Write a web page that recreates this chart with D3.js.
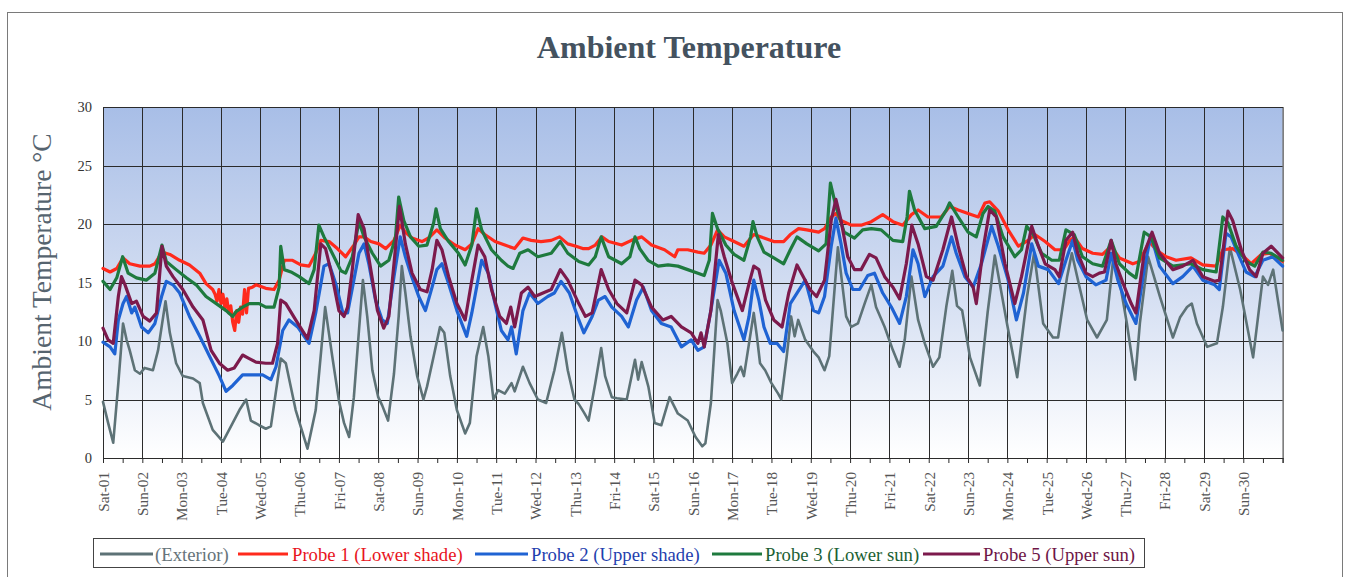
<!DOCTYPE html>
<html>
<head>
<meta charset="utf-8">
<script src="https://cdn.jsdelivr.net/npm/d3@7"></script>
<style>
  body { margin: 0; background: #fff; }
  svg { display: block; font-family: "Liberation Serif", "Times New Roman", serif; }
</style>
</head>
<body>
<svg id="chart" width="1345" height="577"></svg>
<script>
// Day labels along the time axis (one per day, rotated)
const dayLabels = ["Sat-01","Sun-02","Mon-03","Tue-04","Wed-05","Thu-06","Fri-07","Sat-08","Sun-09","Mon-10",
  "Tue-11","Wed-12","Thu-13","Fri-14","Sat-15","Sun-16","Mon-17","Tue-18","Wed-19","Thu-20",
  "Fri-21","Sat-22","Sun-23","Mon-24","Tue-25","Wed-26","Thu-27","Fri-28","Sat-29","Sun-30"];

const yTicks = [0, 5, 10, 15, 20, 25, 30];

// Readings: [elapsed days since Sat-01 00:00, temperature °C]
const exterior = [[0,4.8],[0.13,3.0],[0.26,1.3],[0.39,6.4],[0.51,11.5],[0.6,10.1],[0.68,9.2],[0.81,7.5],[0.94,7.2],
  [1.06,7.7],[1.27,7.5],[1.4,9.2],[1.59,13.4],[1.7,10.7],[1.86,8.1],[2.03,7.0],[2.29,6.8],[2.46,6.4],[2.54,4.7],
  [2.79,2.4],[3.05,1.4],[3.3,3.0],[3.47,4.1],[3.64,5.0],[3.76,3.2],[3.97,2.8],[4.14,2.5],[4.27,2.7],[4.52,8.5],
  [4.65,8.1],[4.9,4.1],[5.2,0.8],[5.41,4.1],[5.65,12.9],[5.83,8.7],[6.0,4.9],[6.13,3.0],[6.26,1.8],[6.38,5.2],
  [6.51,10.9],[6.61,15.2],[6.72,12.1],[6.85,7.5],[7.0,5.2],[7.1,4.5],[7.25,3.2],[7.4,7.2],[7.52,12.1],[7.6,16.4],
  [7.69,14.1],[7.82,10.4],[7.99,7.0],[8.15,5.0],[8.24,6.1],[8.41,8.7],[8.57,11.2],[8.68,10.7],[8.83,7.0],[9.0,4.1],
  [9.21,2.1],[9.33,3.0],[9.5,8.7],[9.67,11.2],[9.8,8.7],[9.93,5.0],[10.05,5.8],[10.22,5.5],[10.39,6.4],[10.47,5.7],
  [10.68,7.8],[10.85,6.4],[11.06,5.0],[11.27,4.7],[11.48,7.5],[11.67,10.7],[11.82,7.5],[11.99,5.0],[12.1,4.6],
  [12.23,3.9],[12.35,3.2],[12.52,6.4],[12.67,9.4],[12.77,7.0],[12.94,5.2],[13.07,5.1],[13.32,5.0],[13.53,8.4],
  [13.61,6.7],[13.7,8.2],[13.87,6.1],[14.03,3.0],[14.2,2.8],[14.41,5.2],[14.62,3.8],[14.87,3.2],[15.07,1.8],
  [15.24,1.0],[15.32,1.25],[15.46,4.7],[15.63,13.5],[15.71,12.6],[15.88,9.8],[16.0,6.4],[16.13,7.2],[16.22,7.8],
  [16.3,7.0],[16.43,9.8],[16.55,12.4],[16.63,10.4],[16.71,8.1],[16.84,7.5],[17.0,6.4],[17.17,5.5],[17.25,5.0],
  [17.39,8.7],[17.5,12.1],[17.59,10.4],[17.68,11.8],[17.86,10.1],[18.07,9.1],[18.2,8.6],[18.35,7.5],[18.47,8.7],
  [18.69,18.0],[18.81,14.6],[18.9,12.1],[19.03,11.2],[19.2,11.5],[19.37,13.2],[19.54,14.8],[19.66,12.9],[19.88,11.2],
  [20.09,9.2],[20.26,7.8],[20.39,10.1],[20.56,15.5],[20.73,11.8],[20.9,9.8],[21.11,7.8],[21.27,8.6],[21.45,13.0],
  [21.6,16.0],[21.72,13.0],[21.85,12.6],[22.05,8.6],[22.3,6.2],[22.5,12.5],[22.68,17.3],[22.99,11.5],[23.25,6.9],
  [23.5,13.8],[23.68,17.5],[23.91,11.5],[24.16,10.3],[24.29,10.3],[24.52,15.5],[24.64,17.5],[24.85,14.4],[25.03,11.8],
  [25.28,10.3],[25.53,11.8],[25.69,17.0],[25.86,15.0],[26.04,11.5],[26.25,6.7],[26.37,11.5],[26.58,17.2],[26.88,13.8],
  [27.21,10.3],[27.39,12.0],[27.57,12.9],[27.69,13.2],[27.82,11.5],[28.08,9.5],[28.33,9.8],[28.48,12.9],[28.66,18.0],
  [28.92,14.4],[29.25,8.6],[29.5,15.5],[29.63,14.8],[29.76,16.1],[30.0,10.9]];

const probe1 = [[0,16.2],[0.18,15.9],[0.35,16.2],[0.51,17.1],[0.68,16.6],[0.94,16.4],[1.19,16.4],[1.32,16.6],[1.5,17.6],
  [1.7,17.4],[1.95,16.9],[2.2,16.5],[2.46,15.8],[2.62,14.9],[2.79,14.4],[2.85,14.0],[2.9,13.4],[2.95,14.4],[3.0,13.2],
  [3.05,14.0],[3.1,12.8],[3.15,13.6],[3.2,12.4],[3.25,13.0],[3.3,11.6],[3.35,10.9],[3.4,12.6],[3.45,11.6],[3.5,12.9],
  [3.55,12.3],[3.6,14.4],[3.65,12.4],[3.7,14.5],[3.8,14.6],[3.89,14.8],[4.14,14.5],[4.35,14.4],[4.48,15.2],[4.61,16.9],
  [4.82,16.9],[5.03,16.5],[5.24,16.4],[5.41,17.5],[5.54,18.6],[5.75,18.5],[5.96,17.9],[6.17,17.2],[6.38,18.2],[6.51,18.9],
  [6.64,18.9],[6.81,18.5],[7.02,18.3],[7.19,17.9],[7.4,18.6],[7.56,19.9],[7.69,19.3],[7.86,18.8],[8.11,18.5],[8.28,18.8],
  [8.49,19.5],[8.7,18.8],[8.95,18.2],[9.21,17.8],[9.38,18.3],[9.54,19.6],[9.71,19.1],[9.97,18.5],[10.22,18.2],[10.47,17.9],
  [10.68,18.8],[10.89,18.6],[11.14,18.5],[11.4,18.6],[11.61,18.9],[11.82,18.3],[12.03,18.1],[12.2,17.9],[12.35,17.9],
  [12.52,18.2],[12.69,18.9],[12.86,18.5],[13.19,18.2],[13.44,18.6],[13.7,18.9],[13.95,18.2],[14.28,17.8],[14.54,17.2],
  [14.62,17.8],[14.87,17.8],[15.13,17.6],[15.29,17.5],[15.46,18.2],[15.63,19.5],[15.8,18.9],[16.05,18.5],[16.3,18.1],
  [16.55,19.1],[16.81,18.8],[17.06,18.5],[17.31,18.5],[17.48,19.1],[17.69,19.6],[17.9,19.5],[18.2,19.3],[18.35,19.6],
  [18.52,20.6],[18.64,20.9],[18.77,20.3],[19.03,19.9],[19.28,19.9],[19.54,20.2],[19.83,20.8],[20.09,20.2],[20.34,19.9],
  [20.56,20.8],[20.73,21.2],[20.98,20.6],[21.32,20.6],[21.53,21.5],[21.75,21.2],[22.0,20.9],[22.26,20.6],[22.43,21.8],
  [22.55,21.9],[22.77,21.1],[23.02,19.5],[23.28,18.1],[23.53,18.6],[23.7,19.1],[23.96,18.5],[24.21,17.8],[24.43,17.8],
  [24.57,18.5],[24.7,18.9],[24.91,17.9],[25.17,17.5],[25.42,17.4],[25.64,18.1],[25.85,17.1],[26.19,16.6],[26.36,16.8],
  [26.61,18.5],[26.78,17.8],[27.04,17.2],[27.29,16.9],[27.67,17.1],[27.97,16.5],[28.31,16.4],[28.48,17.8],[28.73,17.9],
  [28.95,17.4],[29.2,16.6],[29.46,17.4],[29.67,17.5],[30.0,16.8]];

const probe2 = [[0,9.9],[0.18,9.5],[0.3,8.9],[0.39,11.8],[0.51,13.2],[0.6,13.8],[0.73,12.4],[0.81,12.9],[0.98,11.2],
  [1.15,10.7],[1.32,11.5],[1.49,13.8],[1.61,15.1],[1.78,14.8],[1.95,14.1],[2.2,12.1],[2.46,10.4],[2.71,8.7],[2.96,7.0],
  [3.13,5.7],[3.3,6.2],[3.55,7.1],[3.8,7.1],[4.06,7.1],[4.27,6.7],[4.4,7.8],[4.57,10.9],[4.73,11.8],[4.95,11.2],
  [5.24,9.8],[5.41,12.4],[5.62,16.4],[5.75,16.6],[5.92,14.9],[6.1,12.4],[6.22,12.4],[6.38,15.2],[6.51,17.5],[6.64,18.3],
  [6.76,16.6],[6.93,13.5],[7.1,11.8],[7.23,11.5],[7.4,15.5],[7.56,18.9],[7.69,17.2],[7.82,15.8],[8.03,13.8],[8.2,12.6],
  [8.37,14.6],[8.49,16.1],[8.62,16.6],[8.79,14.9],[9.0,12.6],[9.25,10.4],[9.38,12.4],[9.63,16.9],[9.8,15.8],[9.97,13.2],
  [10.13,10.9],[10.3,10.1],[10.39,11.2],[10.51,8.9],[10.68,12.6],[10.85,14.1],[11.06,13.2],[11.31,13.8],[11.48,14.1],
  [11.65,15.1],[11.86,14.1],[12.1,11.8],[12.23,10.7],[12.44,12.1],[12.6,13.5],[12.77,13.8],[12.94,12.9],[13.19,12.1],
  [13.36,11.2],[13.57,13.5],[13.74,14.6],[13.95,12.6],[14.2,11.5],[14.45,11.2],[14.71,9.5],[14.96,10.1],[15.13,9.2],
  [15.29,9.5],[15.46,12.6],[15.67,16.9],[15.84,15.8],[16.05,12.6],[16.3,10.1],[16.43,12.1],[16.55,15.2],[16.68,13.5],
  [16.81,11.2],[16.97,9.8],[17.14,9.8],[17.31,9.1],[17.48,13.2],[17.65,14.1],[17.86,15.2],[18.07,12.6],[18.2,12.4],
  [18.35,13.8],[18.52,18.1],[18.64,20.5],[18.77,18.3],[18.9,15.8],[19.07,14.4],[19.24,14.4],[19.45,15.6],[19.62,15.8],
  [19.83,14.1],[20.05,12.9],[20.26,11.5],[20.43,13.8],[20.6,17.8],[20.73,16.6],[20.9,13.8],[21.11,15.5],[21.36,16.4],
  [21.58,18.9],[21.7,17.5],[21.92,15.5],[22.13,14.6],[22.34,16.6],[22.6,19.8],[22.77,18.1],[23.02,15.2],[23.23,11.8],
  [23.41,14.1],[23.62,18.3],[23.79,16.4],[24.04,16.1],[24.3,14.9],[24.49,16.9],[24.66,18.6],[24.79,16.9],[25.0,15.5],
  [25.25,14.8],[25.51,15.2],[25.64,17.5],[25.81,15.2],[26.02,13.2],[26.27,11.5],[26.48,16.1],[26.65,19.1],[26.87,16.4],
  [27.21,14.9],[27.46,15.5],[27.72,16.4],[27.97,15.2],[28.27,14.8],[28.39,14.4],[28.56,19.2],[28.69,18.9],[28.9,17.2],
  [29.07,15.9],[29.29,15.5],[29.5,16.9],[29.75,17.2],[30.0,16.4]];

const probe3 = [[0,15.1],[0.18,14.4],[0.35,15.4],[0.5,17.2],[0.64,15.8],[0.85,15.4],[1.1,15.2],[1.32,15.8],[1.5,18.2],
  [1.61,16.8],[1.86,16.1],[2.12,15.4],[2.37,14.8],[2.62,13.8],[2.88,13.2],[3.13,12.6],[3.3,12.1],[3.38,12.5],[3.55,12.9],
  [3.72,13.2],[3.97,13.2],[4.14,12.9],[4.35,12.9],[4.48,14.6],[4.52,18.1],[4.61,16.1],[4.78,15.9],[4.99,15.5],[5.24,14.9],
  [5.37,16.1],[5.49,19.9],[5.62,18.9],[5.83,17.5],[6.05,16.0],[6.17,15.8],[6.34,17.2],[6.51,20.2],[6.64,18.9],[6.85,17.5],
  [7.06,16.4],[7.27,16.9],[7.44,18.9],[7.52,22.3],[7.65,20.3],[7.82,18.9],[8.03,18.1],[8.24,18.2],[8.41,20.1],[8.47,21.3],
  [8.58,19.6],[8.79,18.5],[9.04,17.5],[9.21,16.5],[9.38,18.2],[9.5,21.3],[9.63,19.5],[9.88,17.8],[10.13,16.9],[10.3,16.4],
  [10.43,16.2],[10.6,17.5],[10.81,17.8],[11.06,17.2],[11.4,17.5],[11.63,18.5],[11.82,17.5],[12.1,16.8],[12.35,16.5],
  [12.52,17.2],[12.67,18.9],[12.86,17.2],[13.19,16.6],[13.4,17.2],[13.53,18.9],[13.65,17.9],[13.86,16.9],[14.12,16.4],
  [14.37,16.5],[14.62,16.4],[14.87,16.1],[15.13,15.8],[15.29,15.6],[15.42,16.9],[15.5,20.9],[15.63,19.6],[15.84,18.2],
  [16.05,17.4],[16.3,16.9],[16.47,18.9],[16.53,20.2],[16.64,18.9],[16.81,17.6],[17.06,17.1],[17.31,16.6],[17.48,17.8],
  [17.65,18.9],[17.9,18.3],[18.2,17.7],[18.39,18.3],[18.5,23.5],[18.64,21.5],[18.85,19.3],[19.11,18.8],[19.32,19.5],
  [19.54,19.6],[19.79,19.5],[20.09,18.6],[20.34,18.5],[20.45,20.6],[20.51,22.8],[20.64,21.2],[20.9,19.6],[21.19,19.8],
  [21.45,21.2],[21.53,21.8],[21.75,20.6],[22.0,19.3],[22.21,18.9],[22.38,20.9],[22.51,21.5],[22.68,21.1],[22.89,18.9],
  [23.19,17.2],[23.36,17.8],[23.49,19.8],[23.66,19.1],[23.87,17.5],[24.13,16.9],[24.32,16.9],[24.49,19.5],[24.7,19.1],
  [24.91,17.2],[25.17,16.6],[25.42,16.4],[25.64,18.6],[25.85,16.6],[26.1,15.8],[26.27,15.4],[26.48,19.3],[26.65,18.9],
  [26.87,17.1],[27.21,16.4],[27.67,16.6],[27.97,16.1],[28.31,15.9],[28.48,20.6],[28.61,20.1],[28.82,18.1],[29.07,16.8],
  [29.29,16.4],[29.5,17.6],[29.71,17.5],[30.0,16.9]];

const probe5 = [[0,11.1],[0.13,10.1],[0.26,9.8],[0.39,13.8],[0.47,15.5],[0.56,14.8],[0.73,13.2],[0.85,13.4],[1.02,12.1],
  [1.19,11.7],[1.36,12.4],[1.5,18.1],[1.61,16.4],[1.78,15.5],[2.03,14.4],[2.29,12.9],[2.54,11.8],[2.75,9.2],[2.96,8.1],
  [3.17,7.5],[3.34,7.7],[3.55,8.8],[3.72,8.5],[3.89,8.2],[4.14,8.1],[4.31,8.1],[4.44,9.8],[4.52,13.5],[4.65,13.2],
  [4.9,11.8],[5.2,10.2],[5.37,12.6],[5.54,18.3],[5.66,17.9],[5.83,15.5],[6.0,12.6],[6.13,12.1],[6.22,12.9],[6.34,16.1],
  [6.49,20.8],[6.64,19.6],[6.81,16.1],[6.98,12.6],[7.14,11.1],[7.27,12.1],[7.4,16.6],[7.54,21.5],[7.69,18.3],[7.86,15.8],
  [8.07,14.4],[8.24,14.2],[8.37,16.1],[8.49,18.6],[8.62,17.8],[8.79,15.5],[9.0,13.2],[9.21,11.8],[9.38,15.2],[9.54,18.2],
  [9.71,17.2],[9.88,14.4],[10.09,12.1],[10.26,11.5],[10.37,12.9],[10.47,11.2],[10.64,14.1],[10.81,14.6],[10.98,13.8],
  [11.19,14.1],[11.4,14.4],[11.63,16.1],[11.82,15.2],[12.1,13.2],[12.27,12.1],[12.44,12.4],[12.67,16.1],[12.86,14.4],
  [13.07,13.2],[13.32,12.4],[13.53,15.2],[13.7,14.8],[13.95,12.9],[14.24,11.8],[14.45,12.1],[14.71,11.2],[14.96,10.7],
  [15.13,9.8],[15.21,10.7],[15.29,9.5],[15.46,12.6],[15.65,19.1],[15.8,17.2],[16.01,14.9],[16.26,12.6],[16.43,14.9],
  [16.55,16.4],[16.68,16.1],[16.85,13.5],[17.06,11.8],[17.27,11.2],[17.44,14.1],[17.65,16.5],[17.81,15.5],[17.98,14.4],
  [18.15,13.8],[18.35,15.2],[18.52,20.3],[18.64,22.1],[18.77,20.3],[18.94,17.2],[19.11,16.1],[19.28,16.1],[19.49,17.4],
  [19.66,17.1],[19.88,15.5],[20.09,14.6],[20.26,13.6],[20.43,16.6],[20.57,19.9],[20.73,18.3],[20.94,15.5],[21.11,15.2],
  [21.36,17.8],[21.58,20.6],[21.75,18.1],[21.96,15.5],[22.13,14.6],[22.21,13.2],[22.38,17.8],[22.55,21.2],[22.72,20.6],
  [22.94,16.6],[23.19,13.2],[23.36,15.5],[23.62,19.8],[23.79,18.1],[23.96,16.6],[24.21,16.1],[24.32,15.5],[24.49,18.6],
  [24.66,19.3],[24.79,17.5],[25.0,15.8],[25.17,15.5],[25.34,15.8],[25.47,15.9],[25.64,18.6],[25.76,16.6],[25.98,14.6],
  [26.15,13.2],[26.27,12.4],[26.48,17.5],[26.68,19.3],[26.87,17.5],[27.21,16.1],[27.46,16.4],[27.72,16.9],[27.97,15.5],
  [28.27,15.1],[28.39,15.2],[28.61,21.1],[28.73,20.3],[28.95,17.8],[29.16,16.1],[29.33,15.5],[29.5,17.5],[29.71,18.1],
  [30.0,17.1]];

const series = [
  { label: "(Exterior)",            data: exterior, stroke: "#5d7276", text: "#66747a", width: 2.6 },
  { label: "Probe 1 (Lower shade)", data: probe1,   stroke: "#ff2a1c", text: "#e8141c", width: 3.2 },
  { label: "Probe 2 (Upper shade)", data: probe2,   stroke: "#1f63d3", text: "#1f3fae", width: 3.2 },
  { label: "Probe 3 (Lower sun)",   data: probe3,   stroke: "#1e7a3e", text: "#1c5f34", width: 3.2 },
  { label: "Probe 5 (Upper sun)",   data: probe5,   stroke: "#7c1a4c", text: "#6e1546", width: 3.2 }
];

const svg = d3.select("#chart");
const plot = { left: 103, top: 107, right: 1282.6, bottom: 458 };

const x = d3.scaleLinear().domain([0, 30]).range([plot.left, plot.right]);
const y = d3.scaleLinear().domain([0, 30]).range([plot.bottom, plot.top]);

// outer frame
svg.append("rect")
  .attr("x", 7.5).attr("y", 12.5).attr("width", 1335).attr("height", 600)
  .attr("fill", "#fff").attr("stroke", "#7a7a7a").attr("stroke-width", 1);

// plot background gradient
const defs = svg.append("defs");
const grad = defs.append("linearGradient")
  .attr("id", "bg").attr("x1", 0).attr("y1", 0).attr("x2", 0).attr("y2", 1);
grad.append("stop").attr("offset", "0%").attr("stop-color", "#a8bee7");
grad.append("stop").attr("offset", "45%").attr("stop-color", "#cdd9f0");
grad.append("stop").attr("offset", "100%").attr("stop-color", "#ffffff");

svg.append("rect")
  .attr("x", plot.left).attr("y", plot.top)
  .attr("width", plot.right - plot.left).attr("height", plot.bottom - plot.top)
  .attr("fill", "url(#bg)");

// grid
const grid = svg.append("g").attr("stroke", "#2b2b2b").attr("stroke-width", 1);
grid.selectAll("line.h").data(yTicks.slice(1, -1)).join("line")
  .attr("x1", plot.left).attr("x2", plot.right)
  .attr("y1", d => Math.round(y(d)) + 0.5).attr("y2", d => Math.round(y(d)) + 0.5);
grid.selectAll("line.v").data(d3.range(1, 30)).join("line")
  .attr("y1", plot.top).attr("y2", plot.bottom)
  .attr("x1", d => Math.round(x(d)) + 0.5).attr("x2", d => Math.round(x(d)) + 0.5);

svg.append("rect")
  .attr("x", plot.left + 0.5).attr("y", plot.top + 0.5)
  .attr("width", plot.right - plot.left).attr("height", plot.bottom - plot.top)
  .attr("fill", "none").attr("stroke", "#2b2b2b").attr("stroke-width", 1);

// series
const line = d3.line().x(d => x(d[0])).y(d => y(d[1]));
svg.append("g").selectAll("path").data(series).join("path")
  .attr("d", d => line(d.data))
  .attr("fill", "none")
  .attr("stroke", d => d.stroke)
  .attr("stroke-width", d => d.width)
  .attr("stroke-linejoin", "round")
  .attr("stroke-linecap", "round");

// y axis
const yAxis = svg.append("g")
  .attr("transform", `translate(${plot.left},0)`)
  .call(d3.axisLeft(y).tickValues(yTicks).tickSize(0).tickPadding(11));
yAxis.select(".domain").remove();
yAxis.selectAll("text")
  .attr("font-family", '"Liberation Serif", serif')
  .attr("font-size", 14.5).attr("fill", "#333");

// x axis: half-day ticks
const xTicks = svg.append("g")
  .attr("transform", `translate(0,${plot.bottom})`)
  .call(d3.axisBottom(x).tickValues(d3.range(0, 30.01, 0.5)).tickSize(5).tickFormat(""));
xTicks.select(".domain").attr("stroke", "#2b2b2b");
xTicks.selectAll(".tick line").attr("stroke", "#2b2b2b");

// x axis: day labels
const xLabels = svg.append("g")
  .attr("transform", `translate(0,${plot.bottom})`)
  .call(d3.axisBottom(x).tickValues(d3.range(0, 30)).tickSize(0).tickFormat(i => dayLabels[i]));
xLabels.select(".domain").remove();
xLabels.selectAll("text")
  .attr("transform", "rotate(-90)")
  .attr("x", -14).attr("y", 0).attr("dy", "0.35em")
  .style("text-anchor", "end")
  .attr("font-family", '"Liberation Serif", serif')
  .attr("font-size", 15.2).attr("fill", "#555");

// titles
svg.append("text")
  .attr("x", 689).attr("y", 58)
  .attr("text-anchor", "middle")
  .attr("font-size", 32).attr("font-weight", "bold").attr("fill", "#44525f")
  .text("Ambient Temperature");

svg.append("text")
  .attr("transform", "translate(51,272) rotate(-90)")
  .attr("text-anchor", "middle")
  .attr("font-size", 27.5).attr("fill", "#56646f")
  .text("Ambient Temperature °C");

// legend
const legend = svg.append("g");
legend.append("rect")
  .attr("x", 93.5).attr("y", 538.5).attr("width", 1051).attr("height", 29)
  .attr("fill", "#fff").attr("stroke", "#444").attr("stroke-width", 1);
const legendPos = [[100, 153, 155], [238, 288, 292], [475, 528, 531], [712, 762, 765], [923, 980, 983]];
const items = legend.selectAll("g.item").data(series).join("g").attr("class", "item");
items.append("line")
  .attr("x1", (d, i) => legendPos[i][0]).attr("x2", (d, i) => legendPos[i][1])
  .attr("y1", 554).attr("y2", 554)
  .attr("stroke", d => d.stroke).attr("stroke-width", 3);
items.append("text")
  .attr("x", (d, i) => legendPos[i][2]).attr("y", 560.5)
  .attr("font-size", 18.7).attr("fill", d => d.text)
  .text(d => d.label);
</script>
</body>
</html>
